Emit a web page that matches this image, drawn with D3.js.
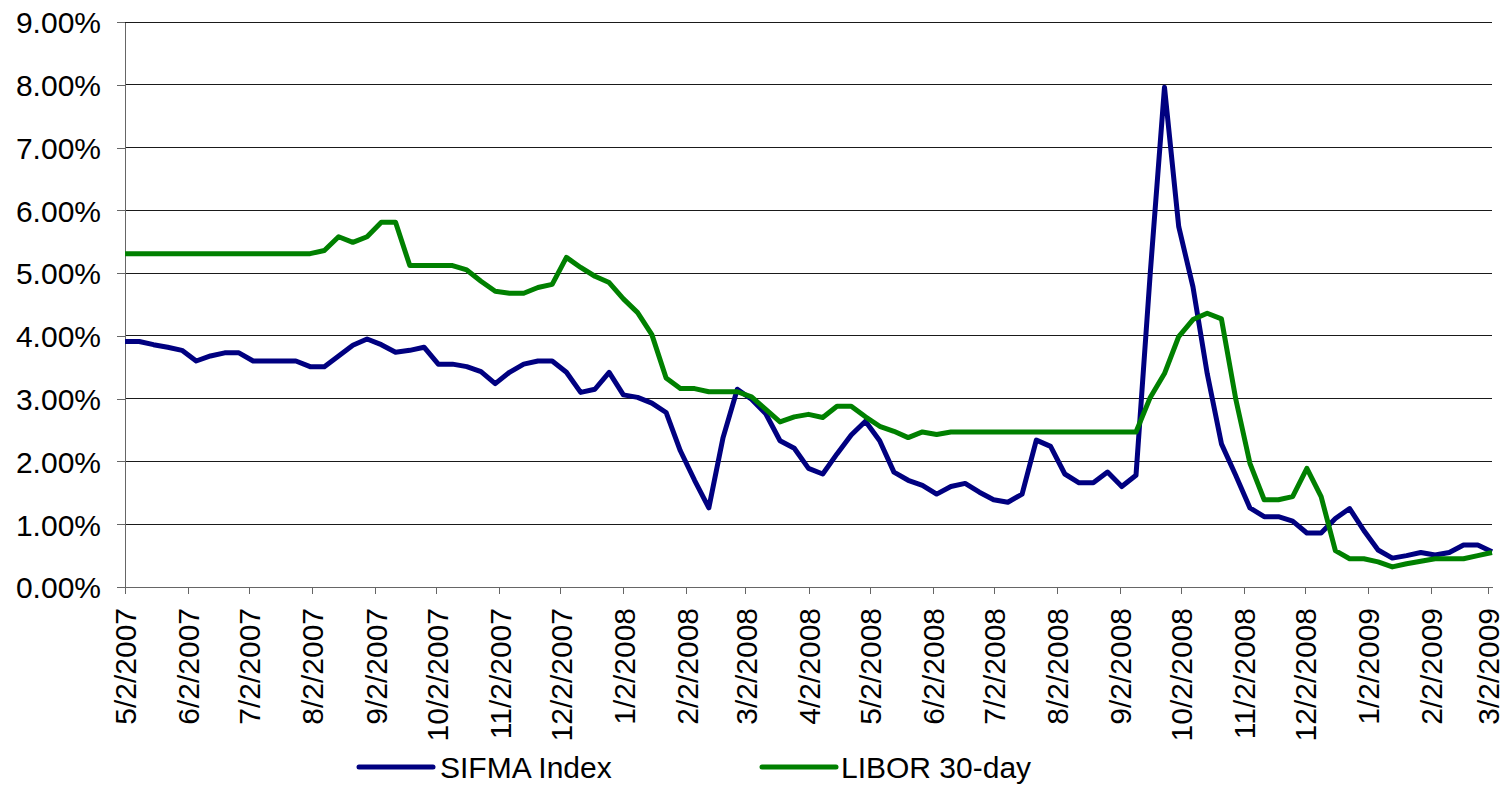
<!DOCTYPE html>
<html>
<head>
<meta charset="utf-8">
<script src="https://cdn.jsdelivr.net/npm/d3@7"></script>
<style>
  html, body { margin: 0; padding: 0; background: #fff; }
  svg { display: block; }
  text { font-family: Arial, "Liberation Sans", sans-serif; fill: #000; }
</style>
</head>
<body>
<svg id="chart" width="1505" height="787"></svg>
<script>
// Weekly observation dates (Wednesdays)
const dates = [
  "2007-05-02","2007-05-09","2007-05-16","2007-05-23","2007-05-30","2007-06-06","2007-06-13","2007-06-20","2007-06-27",
  "2007-07-04","2007-07-11","2007-07-18","2007-07-25","2007-08-01","2007-08-08","2007-08-15","2007-08-22","2007-08-29",
  "2007-09-05","2007-09-12","2007-09-19","2007-09-26","2007-10-03","2007-10-10","2007-10-17","2007-10-24","2007-10-31",
  "2007-11-07","2007-11-14","2007-11-21","2007-11-28","2007-12-05","2007-12-12","2007-12-19","2007-12-26",
  "2008-01-02","2008-01-09","2008-01-16","2008-01-23","2008-01-30","2008-02-06","2008-02-13","2008-02-20","2008-02-27",
  "2008-03-05","2008-03-12","2008-03-19","2008-03-26","2008-04-02","2008-04-09","2008-04-16","2008-04-23","2008-04-30",
  "2008-05-07","2008-05-14","2008-05-21","2008-05-28","2008-06-04","2008-06-11","2008-06-18","2008-06-25",
  "2008-07-02","2008-07-09","2008-07-16","2008-07-23","2008-07-30","2008-08-06","2008-08-13","2008-08-20","2008-08-27",
  "2008-09-03","2008-09-10","2008-09-17","2008-09-24","2008-10-01","2008-10-08","2008-10-15","2008-10-22","2008-10-29",
  "2008-11-05","2008-11-12","2008-11-19","2008-11-26","2008-12-03","2008-12-10","2008-12-17","2008-12-24","2008-12-31",
  "2009-01-07","2009-01-14","2009-01-21","2009-01-28","2009-02-04","2009-02-11","2009-02-18","2009-02-25","2009-03-04"
];

// SIFMA Index (%)
const sifma = [
  3.91,3.91,3.86,3.82,3.77,3.60,3.68,3.73,3.73,
  3.60,3.60,3.60,3.60,3.51,3.51,3.68,3.85,3.95,
  3.86,3.74,3.77,3.82,3.55,3.55,3.51,3.43,3.24,
  3.42,3.55,3.60,3.60,3.42,3.10,3.15,3.42,
  3.06,3.02,2.93,2.78,2.17,1.70,1.26,2.38,3.15,
  2.99,2.76,2.33,2.21,1.89,1.80,2.12,2.42,2.64,
  2.33,1.83,1.70,1.62,1.48,1.60,1.65,1.51,
  1.39,1.35,1.48,2.34,2.24,1.80,1.66,1.66,1.83,
  1.60,1.78,5.00,7.96,5.74,4.78,3.40,2.28,1.78,
  1.26,1.12,1.12,1.05,0.86,0.86,1.09,1.25,0.90,
  0.59,0.46,0.50,0.55,0.51,0.55,0.67,0.67,0.56
];

// LIBOR 30-day (%)
const libor = [
  5.31,5.31,5.31,5.31,5.31,5.31,5.31,5.31,5.31,
  5.31,5.31,5.31,5.31,5.31,5.36,5.58,5.49,5.58,
  5.81,5.81,5.12,5.12,5.12,5.12,5.05,4.87,4.71,
  4.68,4.68,4.77,4.82,5.25,5.09,4.95,4.85,
  4.59,4.37,4.02,3.33,3.16,3.16,3.11,3.11,3.11,
  3.03,2.83,2.63,2.71,2.75,2.70,2.88,2.88,2.71,
  2.56,2.48,2.38,2.47,2.43,2.47,2.47,2.47,
  2.47,2.47,2.47,2.47,2.47,2.47,2.47,2.47,2.47,
  2.47,2.47,3.02,3.40,3.99,4.26,4.36,4.27,3.00,
  1.97,1.39,1.39,1.44,1.89,1.44,0.58,0.45,0.45,
  0.40,0.32,0.37,0.41,0.45,0.45,0.45,0.50,0.55
];

const xTickLabels = [
  "5/2/2007","6/2/2007","7/2/2007","8/2/2007","9/2/2007","10/2/2007","11/2/2007","12/2/2007",
  "1/2/2008","2/2/2008","3/2/2008","4/2/2008","5/2/2008","6/2/2008","7/2/2008","8/2/2008",
  "9/2/2008","10/2/2008","11/2/2008","12/2/2008","1/2/2009","2/2/2009","3/2/2009"
];
const yTicks = [0,1,2,3,4,5,6,7,8,9];

const seriesNames = ["SIFMA Index", "LIBOR 30-day"];
const seriesColors = ["#000080", "#008000"];

const parseISO = d3.timeParse("%Y-%m-%d");
const parseTick = d3.timeParse("%m/%d/%Y");
const dateObjs = dates.map(parseISO);
const tickDates = xTickLabels.map(parseTick);

const svg = d3.select("#chart");
const plotL = 125, plotR = 1492, plotT = 22, plotB = 587;

const x = d3.scaleTime()
  .domain([dateObjs[0], dateObjs[dateObjs.length - 1]])
  .range([plotL, plotR]);
const y = d3.scaleLinear().domain([0, 9]).range([plotB, plotT]);

// gridlines
svg.append("g")
  .selectAll("line")
  .data(yTicks.filter(d => d > 0))
  .join("line")
  .attr("x1", plotL).attr("x2", plotR)
  .attr("y1", d => y(d)).attr("y2", d => y(d))
  .attr("stroke", "#1a1a1a").attr("stroke-width", 1)
  .attr("shape-rendering", "crispEdges");

// y axis
const yAxis = d3.axisLeft(y)
  .tickValues(yTicks)
  .tickFormat(d => d.toFixed(2) + "%")
  .tickSizeInner(8).tickSizeOuter(0).tickPadding(16);
const gy = svg.append("g").attr("transform", `translate(${plotL},0)`).call(yAxis);
gy.select(".domain").attr("stroke", "#666").attr("shape-rendering", "crispEdges");
gy.selectAll(".tick line").attr("stroke", "#666").attr("shape-rendering", "crispEdges");
gy.selectAll(".tick text")
  .style("font-family", "Arial, 'Liberation Sans', sans-serif")
  .style("font-size", "30px").attr("fill", "#000").attr("dy", "0.36em");

// x axis
svg.append("defs").append("clipPath").attr("id", "xclip")
  .append("rect").attr("x", 0).attr("y", 0).attr("width", 1505).attr("height", 740);

const xAxis = d3.axisBottom(x)
  .tickValues(tickDates)
  .tickFormat((d, i) => xTickLabels[i])
  .tickSizeInner(7).tickSizeOuter(0);
const gx = svg.append("g").attr("clip-path", "url(#xclip)")
  .append("g").attr("transform", `translate(0,${plotB})`).call(xAxis);
gx.select(".domain").attr("stroke", "#666").attr("shape-rendering", "crispEdges");
gx.selectAll(".tick line").attr("stroke", "#666").attr("shape-rendering", "crispEdges");
gx.selectAll(".tick text")
  .style("font-family", "Arial, 'Liberation Sans', sans-serif")
  .style("font-size", "30px").attr("fill", "#000")
  .attr("text-anchor", "end")
  .attr("transform", "rotate(-90)")
  .attr("x", -21).attr("y", 0).attr("dy", "0.36em");

// lines
const line = d3.line()
  .x((d, i) => x(dateObjs[i]))
  .y(d => y(d));

[sifma, libor].forEach((vals, k) => {
  svg.append("path")
    .datum(vals)
    .attr("fill", "none")
    .attr("stroke", seriesColors[k])
    .attr("stroke-width", 5)
    .attr("stroke-linejoin", "round")
    .attr("stroke-linecap", "butt")
    .attr("d", line);
});

// legend
const legendItems = [
  { x1: 359, x2: 433, tx: 440 },
  { x1: 762, x2: 836, tx: 841 }
];
const lg = svg.append("g");
legendItems.forEach((it, k) => {
  lg.append("line")
    .attr("x1", it.x1).attr("x2", it.x2)
    .attr("y1", 767).attr("y2", 767)
    .attr("stroke", seriesColors[k]).attr("stroke-width", 5)
    .attr("stroke-linecap", "round");
  lg.append("text")
    .attr("x", it.tx).attr("y", 778)
    .style("font-size", "30px")
    .text(seriesNames[k]);
});
</script>
</body>
</html>
